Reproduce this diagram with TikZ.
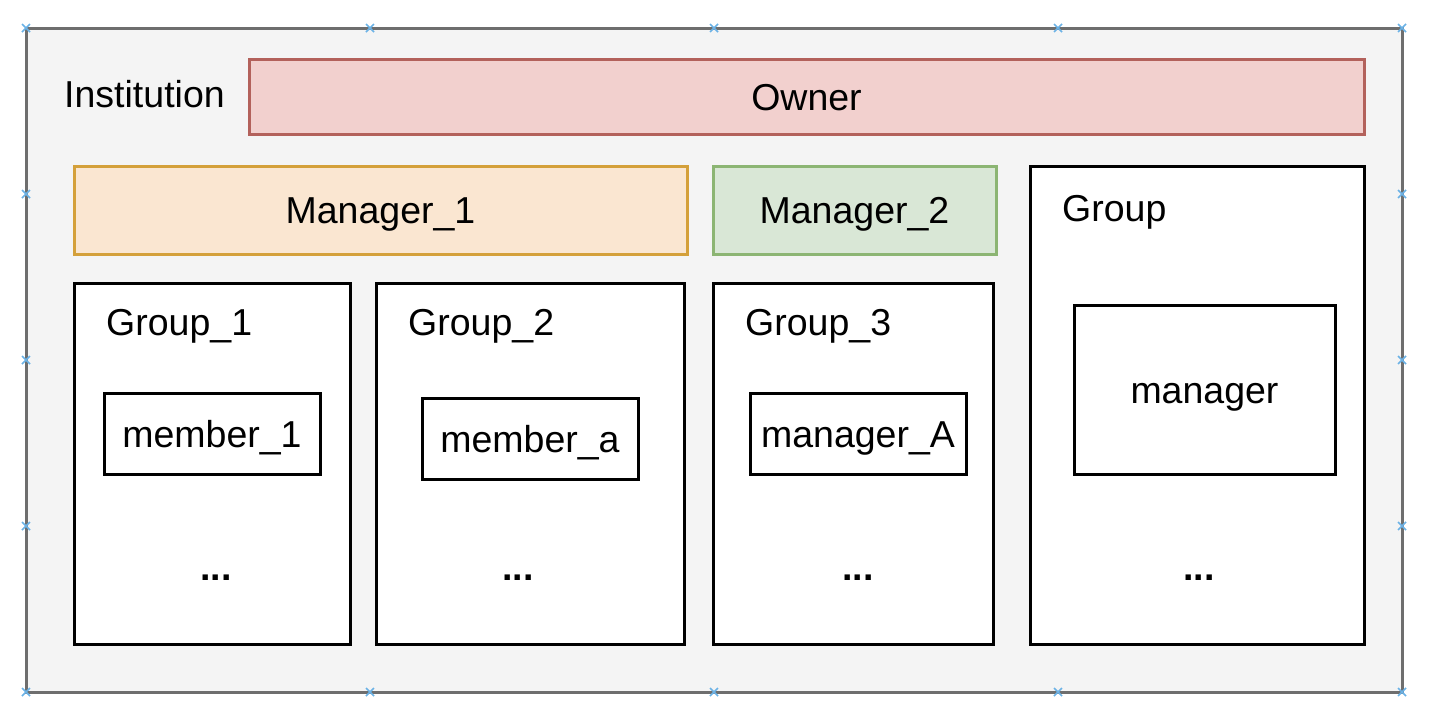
\documentclass[tikz,border=0pt]{standalone}
\usepackage{fontspec}
\setmainfont{Liberation Sans}
\definecolor{outerfill}{HTML}{F4F4F4}
\definecolor{outerdraw}{HTML}{6E6E6E}
\definecolor{ownerfill}{HTML}{F2D0CE}
\definecolor{ownerdraw}{HTML}{B3615B}
\definecolor{mgronefill}{HTML}{FAE6D1}
\definecolor{mgronedraw}{HTML}{D4A03A}
\definecolor{mgrtwofill}{HTML}{D9E7D6}
\definecolor{mgrtwodraw}{HTML}{8CB573}
\definecolor{handle}{HTML}{6BB2E6}
\begin{document}
\begin{tikzpicture}[x=1pt,y=-1pt,
  every node/.style={font=\fontsize{37.5}{45}\selectfont, inner sep=0pt},
  boxstyle/.style={draw=black, line width=3pt, fill=white, text height=27pt, text depth=0pt},
  colbox/.style={line width=3pt, text height=27pt, text depth=0pt},
  lbl/.style={anchor=base west},
  dotlbl/.style={anchor=base, font=\fontsize{37.5}{45}\selectfont\bfseries},
  handlemark/.style={draw=handle, line width=1.5pt}
]
\useasboundingbox (0,0) rectangle (1444,724);
% outer container
\path[fill=outerfill, draw=outerdraw, line width=3pt] (26,28) rectangle (1402,692);
\node[lbl] (inst) at (64,107) {Institution};
% owner
\node[colbox, draw=ownerdraw, fill=ownerfill, minimum width=1115pt, minimum height=75pt] (owner) at (806.5,96.5) {Owner};
% managers
\node[colbox, draw=mgronedraw, fill=mgronefill, minimum width=613pt, minimum height=88pt] (m1) at (380.5,210) {Manager\_1};
\node[colbox, draw=mgrtwodraw, fill=mgrtwofill, minimum width=283pt, minimum height=88pt] (m2) at (854.5,210) {Manager\_2};
% groups
\node[boxstyle, minimum width=276pt, minimum height=361pt] (g1) at (212,463.5) {};
\node[boxstyle, minimum width=308pt, minimum height=361pt] (g2) at (530,463.5) {};
\node[boxstyle, minimum width=280pt, minimum height=361pt] (g3) at (853,463.5) {};
\node[boxstyle, minimum width=334pt, minimum height=478pt] (g) at (1197,405) {};
\node[lbl] (g1l) at (106,335.5) {Group\_1};
\node[lbl] (g2l) at (408,335.5) {Group\_2};
\node[lbl] (g3l) at (745,335.5) {Group\_3};
\node[lbl] (gl) at (1062,221.5) {Group};
% members
\node[boxstyle, minimum width=216pt, minimum height=81pt] (mem1) at (212,433.5) {member\_1};
\node[boxstyle, minimum width=216pt, minimum height=81pt] (mema) at (530,438.5) {member\_a};
\node[boxstyle, minimum width=216pt, minimum height=81pt] (mgrA) at (858,433.5) {manager\_A};
\node[boxstyle, minimum width=261pt, minimum height=169pt] (mgr) at (1204.5,389.5) {manager};
% ellipses
\node[dotlbl] (d1) at (216,580) {...};
\node[dotlbl] (d2) at (518,580) {...};
\node[dotlbl] (d3) at (858,580) {...};
\node[dotlbl] (d4) at (1199,580) {...};
% selection handles
\foreach \hx in {26,370,714,1058,1402}{
  \foreach \hy in {28,692}{
    \draw[handlemark] (\hx-4,\hy-4) -- (\hx+4,\hy+4) (\hx-4,\hy+4) -- (\hx+4,\hy-4);
  }
}
\foreach \hy in {194,360,526}{
  \foreach \hx in {26,1402}{
    \draw[handlemark] (\hx-4,\hy-4) -- (\hx+4,\hy+4) (\hx-4,\hy+4) -- (\hx+4,\hy-4);
  }
}
\end{tikzpicture}
\end{document}
